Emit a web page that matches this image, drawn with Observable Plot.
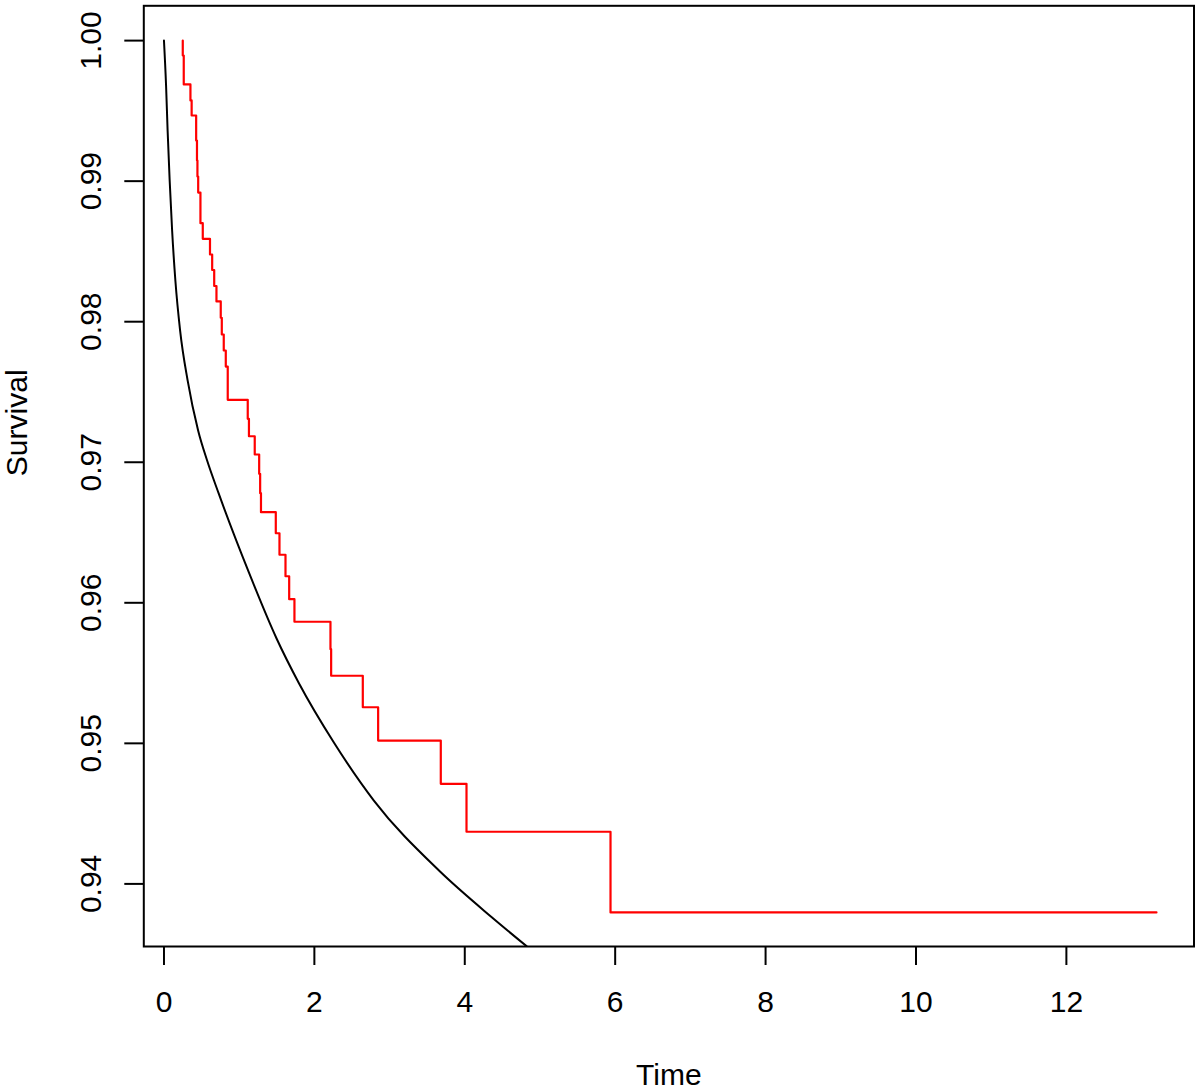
<!DOCTYPE html>
<html>
<head>
<meta charset="utf-8">
<script src="https://cdn.jsdelivr.net/npm/d3@7"></script>
<script src="https://cdn.jsdelivr.net/npm/@observablehq/plot@0.6"></script>
<style>
  html, body { margin: 0; padding: 0; background: #fff; overflow: hidden; }
</style>
</head>
<body>
<div id="chart"></div>
<script>
// Kaplan-Meier style step curve (red): time of each drop and survival after it
const redTime = [0.250, 0.250, 0.263, 0.352, 0.368, 0.428, 0.439, 0.445, 0.455, 0.485,
  0.516, 0.612, 0.641, 0.668, 0.698, 0.755, 0.769, 0.795, 0.822, 0.848,
  1.114, 1.130, 1.207, 1.266, 1.279, 1.290, 1.487, 1.536, 1.616, 1.665,
  1.735, 2.214, 2.223, 2.644, 2.848, 3.681, 4.023, 5.938, 13.198];
const redSurv = [1.0000, 0.99894, 0.99688, 0.99574, 0.99467, 0.99289, 0.99147, 0.99033, 0.98919, 0.98701,
  0.98590, 0.98478, 0.98368, 0.98254, 0.98144, 0.98028, 0.97909, 0.97795, 0.97681, 0.97444,
  0.97309, 0.97185, 0.97055, 0.96918, 0.96780, 0.96645, 0.96495, 0.96342, 0.96189, 0.96026,
  0.95865, 0.95670, 0.95481, 0.95257, 0.95020, 0.94712, 0.94371, 0.93797, 0.93797];

// Smooth fitted curve (black)
const blackTime = [0, 0.0279, 0.0485, 0.0758, 0.1084, 0.1516, 0.2148, 0.3145, 0.4541, 0.5738,
  0.7274, 1.1290, 1.4973, 1.7965, 2.2593, 2.7912, 3.6569, 4.3630, 4.8258];
const blackSurv = [1.0, 0.99681, 0.99360, 0.99005, 0.98649, 0.98293, 0.97937, 0.97582, 0.97226, 0.97012,
  0.96778, 0.96216, 0.95746, 0.95426, 0.95006, 0.94593, 0.94095, 0.93761, 0.93555];

const xTicks = [0, 2, 4, 6, 8, 10, 12];
const yTicks = [0.94, 0.95, 0.96, 0.97, 0.98, 0.99, 1.00];
const xLabel = "Time";
const yLabel = "Survival";

const red = redTime.map((t, i) => ({t, s: redSurv[i]}));
const black = blackTime.map((t, i) => ({t, s: blackSurv[i]}));

const chart = Plot.plot({
  width: 1200,
  height: 1090,
  marginLeft: 143.3,
  marginRight: 6.5,
  marginTop: 5.3,
  marginBottom: 144,
  style: {fontFamily: "'Liberation Sans', Arial, sans-serif", fontSize: "30px", background: "#fff", color: "#000"},
  x: {domain: [-0.2682, 13.697]},
  y: {domain: [0.935546, 1.002476]},
  marks: [
    Plot.line(black, {x: "t", y: "s", curve: "monotone-x", stroke: "#000", strokeWidth: 2, clip: true}),
    Plot.line(red, {x: "t", y: "s", curve: "step-after", stroke: "#ff0000", strokeWidth: 2.2}),
    Plot.frame({stroke: "#000", strokeWidth: 2}),
    Plot.axisX({ticks: xTicks, tickSize: 19, tickPadding: 25, label: null, strokeWidth: 2, fontSize: 30}),
    Plot.axisY({ticks: yTicks, tickFormat: d3.format(".2f"), tickSize: 19, tickRotate: -90, tickPadding: 24, label: null, strokeWidth: 2, fontSize: 30}),
    Plot.text([xLabel], {text: d => d, frameAnchor: "bottom", dy: 129, lineAnchor: "middle", fontSize: 30}),
    Plot.text([yLabel], {text: d => d, frameAnchor: "left", dx: -126.3, rotate: -90, lineAnchor: "middle", fontSize: 30})
  ]
});
document.getElementById("chart").appendChild(chart);
</script>
</body>
</html>
